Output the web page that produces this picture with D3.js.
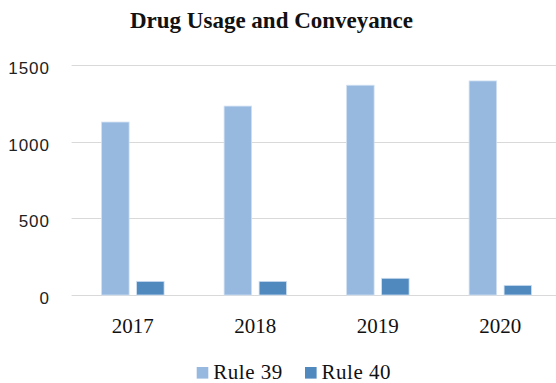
<!DOCTYPE html>
<html>
<head>
<meta charset="utf-8">
<script src="https://cdn.jsdelivr.net/npm/d3@7"></script>
<style>
  html, body { margin: 0; padding: 0; background: #fff; }
  svg { display: block; }
</style>
</head>
<body>
<svg id="chart" width="556" height="383"></svg>
<script>
const title = "Drug Usage and Conveyance";
const categories = ["2017", "2018", "2019", "2020"];
const seriesNames = ["Rule 39", "Rule 40"];
const rule39 = [1128, 1232, 1368, 1396];
const rule40 = [89, 89, 109, 63];
const yTicks = [0, 500, 1000, 1500];
const colors = ["#97B9E0", "#4F89BE"];

const svg = d3.select("#chart");
const W = 556, H = 383;
const plot = { left: 71.6, right: 561.6, top: 65, bottom: 295 };

const y = d3.scaleLinear().domain([0, 1500]).range([plot.bottom, plot.top]);
const x0 = d3.scaleBand().domain(categories).range([plot.left, plot.right])
  .paddingInner(0.49).paddingOuter(0.245);
const x1 = d3.scaleBand().domain(seriesNames).range([0, x0.bandwidth()])
  .paddingInner(0.214).paddingOuter(0);
const color = d3.scaleOrdinal().domain(seriesNames).range(colors);

// gridlines
svg.append("g").selectAll("line").data(yTicks).join("line")
  .attr("x1", plot.left).attr("x2", W)
  .attr("y1", d => Math.round(y(d)) + 0.5).attr("y2", d => Math.round(y(d)) + 0.5)
  .attr("stroke", "#d9d9d9").attr("stroke-width", 1.2);

// y axis labels
const yAxis = d3.axisLeft(y).tickValues(yTicks).tickFormat(d3.format("d")).tickSize(0).tickPadding(0);
const gy = svg.append("g").attr("transform", "translate(50,0)").call(yAxis);
gy.select(".domain").remove();
gy.selectAll("text")
  .attr("font-family", "'Liberation Sans', Arial, sans-serif")
  .attr("font-size", 17)
  .attr("letter-spacing", 1)
  .attr("fill", "#222")
  .attr("dy", "0.5em");

// x axis labels
const xAxis = d3.axisBottom(x0).tickSize(0).tickPadding(0);
const gx = svg.append("g").attr("transform", `translate(0,${plot.bottom})`).call(xAxis);
gx.select(".domain").remove();
gx.selectAll("text")
  .attr("font-family", "'Liberation Serif', 'Times New Roman', serif")
  .attr("font-size", 21)
  .attr("fill", "#111")
  .attr("dy", 0)
  .attr("y", 38);

// bars
const data = categories.map((c, i) => ({ cat: c, values: [
  { key: seriesNames[0], value: rule39[i] },
  { key: seriesNames[1], value: rule40[i] }
]}));

svg.append("g").selectAll("g").data(data).join("g")
  .attr("transform", d => `translate(${x0(d.cat)},0)`)
  .selectAll("rect").data(d => d.values).join("rect")
  .attr("x", d => x1(d.key))
  .attr("width", x1.bandwidth())
  .attr("y", d => y(d.value))
  .attr("height", d => y(0) - y(d.value))
  .attr("fill", d => color(d.key))
  .attr("stroke", "#cfe0f2")
  .attr("stroke-width", 0.8);

// title
svg.append("text")
  .attr("x", 271.5).attr("y", 28.3)
  .attr("text-anchor", "middle")
  .attr("font-family", "'Liberation Serif', 'Times New Roman', serif")
  .attr("font-weight", "bold")
  .attr("font-size", 23)
  .attr("fill", "#111")
  .text(title);

// legend
const legendX = [196.7, 305];
const lg = svg.append("g").selectAll("g").data(seriesNames).join("g")
  .attr("transform", (d, i) => `translate(${legendX[i]},0)`);
lg.append("rect")
  .attr("x", 0).attr("y", 367).attr("width", 11.6).attr("height", 11.6)
  .attr("fill", d => color(d));
lg.append("text")
  .attr("x", 16.6).attr("y", 378.5)
  .attr("font-family", "'Liberation Serif', 'Times New Roman', serif")
  .attr("font-size", 21)
  .attr("letter-spacing", 0.5)
  .attr("fill", "#111")
  .text(d => d);
</script>
</body>
</html>
